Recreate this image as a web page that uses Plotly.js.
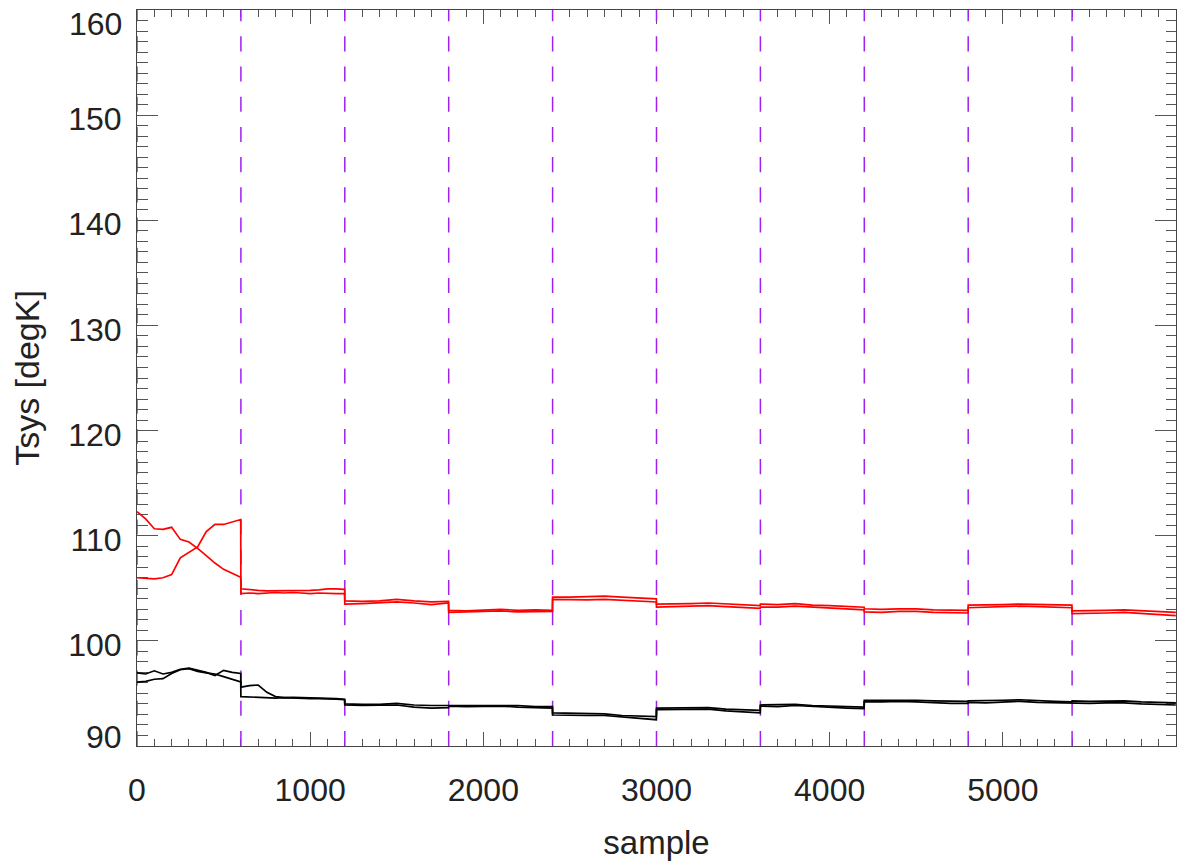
<!DOCTYPE html>
<html>
<head>
<meta charset="utf-8">
<script src="https://cdn.plot.ly/plotly-3.0.1.min.js"></script>
<style>html,body{margin:0;padding:0;background:#fff;}#chart{width:1178px;height:861px;}</style>
</head>
<body>
<div id="chart"></div>
<script>
// sample positions (shared by all four series)
const sampleX = [0,50,100,150,200,250,300,350,400,450,500,550,599,
  600,650,700,750,800,850,900,950,1000,1050,1100,1150,1199,
  1200,1300,1400,1500,1600,1700,1799,
  1800,1900,2000,2100,2200,2300,2399,
  2400,2500,2600,2700,2800,2900,2999,
  3000,3100,3200,3300,3400,3500,3599,
  3600,3700,3800,3900,4000,4100,4199,
  4200,4300,4400,4500,4600,4700,4799,
  4800,4900,5000,5100,5200,5300,5399,
  5400,5500,5600,5700,5800,5900,5999];

// red series (two polarisations)
const redA = [112.3,111.6,110.66,110.6,110.8,109.65,109.4,108.8,108.1,107.4,106.8,106.4,106.05,
  104.95,104.85,104.8,104.75,104.75,104.8,104.75,104.75,104.8,104.85,104.95,104.95,104.9,
  103.8,103.75,103.8,103.95,103.8,103.7,103.75,
  102.9,102.85,102.95,103.0,102.9,102.95,102.9,
  104.15,104.15,104.2,104.25,104.15,104.1,104.0,
  103.5,103.5,103.55,103.6,103.5,103.45,103.35,
  103.5,103.45,103.55,103.4,103.35,103.3,103.2,
  103.05,103.0,103.05,103.05,102.95,102.9,102.9,
  103.4,103.4,103.45,103.5,103.45,103.45,103.4,
  102.85,102.85,102.9,102.95,102.85,102.8,102.7];
const redB = [106.0,105.93,105.9,106.0,106.3,107.9,108.4,108.94,110.4,111.07,111.07,111.29,111.54,
  104.5,104.55,104.5,104.55,104.6,104.55,104.6,104.55,104.5,104.55,104.5,104.5,104.5,
  103.5,103.55,103.6,103.7,103.6,103.45,103.6,
  102.7,102.75,102.8,102.85,102.75,102.8,102.8,
  103.95,103.9,103.9,103.95,103.85,103.8,103.7,
  103.2,103.25,103.3,103.35,103.25,103.2,103.1,
  103.2,103.2,103.3,103.2,103.1,103.05,102.95,
  102.75,102.7,102.8,102.8,102.7,102.65,102.65,
  103.15,103.2,103.25,103.3,103.25,103.2,103.15,
  102.6,102.6,102.65,102.7,102.6,102.5,102.4];

// black series
const blackC = [96.96,96.85,97.15,96.85,97.0,97.3,97.4,97.2,97.0,96.7,97.2,97.0,96.9,
  95.6,95.75,95.8,95.1,94.7,94.6,94.62,94.6,94.55,94.6,94.55,94.5,94.45,
  94.0,93.95,93.95,94.05,93.9,93.85,93.85,
  93.9,93.85,93.85,93.9,93.85,93.75,93.75,
  93.15,93.1,93.05,93.05,92.9,92.85,92.8,
  93.6,93.6,93.6,93.65,93.5,93.45,93.4,
  93.9,93.9,93.95,93.85,93.8,93.75,93.7,
  94.35,94.35,94.4,94.35,94.3,94.25,94.25,
  94.3,94.3,94.35,94.4,94.3,94.25,94.2,
  94.3,94.25,94.25,94.3,94.2,94.15,94.1];
const blackD = [96.07,96.15,96.35,96.4,96.9,97.25,97.35,97.1,96.95,96.85,96.6,96.35,96.1,
  94.7,94.65,94.65,94.6,94.55,94.6,94.55,94.55,94.5,94.5,94.5,94.45,94.4,
  93.9,93.85,93.85,93.9,93.7,93.6,93.65,
  93.8,93.75,93.8,93.8,93.7,93.65,93.6,
  92.95,92.9,92.9,92.9,92.75,92.65,92.5,
  93.45,93.45,93.5,93.5,93.35,93.25,93.15,
  93.8,93.75,93.85,93.75,93.65,93.6,93.55,
  94.2,94.2,94.25,94.2,94.1,94.05,94.05,
  94.15,94.1,94.15,94.25,94.15,94.1,94.05,
  94.1,94.05,94.1,94.1,94.0,93.95,93.9];

// scan boundaries (dashed purple markers)
const boundaries = [0,600,1200,1800,2400,3000,3600,4200,4800,5400];

const xTickVals = [0,1000,2000,3000,4000,5000];
const xTickText = ['0','1000','2000','3000','4000','5000'];
const yTickVals = [90,100,110,120,130,140,150,160];
const yTickText = ['90','100','110','120','130','140','150','160'];

const xRange = [0, 6000];
const yRange = [90, 160];

const traces = [];
boundaries.forEach(b => {
  traces.push({x:[b,b], y:[yRange[1]+0.37, yRange[0]], mode:'lines', hoverinfo:'skip', showlegend:false,
    line:{color:'#a020f0', width:1.5, dash:'15.1px,15.1px'}});
});
[[redA,'#ff0000'],[redB,'#ff0000'],[blackC,'#000000'],[blackD,'#000000']].forEach(([ys,c]) => {
  traces.push({x:sampleX, y:ys, mode:'lines', showlegend:false, line:{color:c, width:1.7}});
});

const fontFam = '"Liberation Sans", Arial, Helvetica, sans-serif';
const tickColor = '#222222';

// end labels of the y axis sit slightly inside the frame (as in the original)
const lastY = yTickVals.length - 1;
const yAxisText = yTickText.map((t, i) => (i === 0 || i === lastY) ? '' : t);
const endShift = {0: 9, [lastY]: -14};
const annotations = [0, lastY].map(i => ({
  xref:'paper', yref:'y', x:0, y:yTickVals[i], text:yTickText[i], showarrow:false,
  xanchor:'right', yanchor:'middle', xshift:-13, yshift:endShift[i],
  font:{size:32, family:fontFam, color:tickColor}
}));

const layout = {
  width:1178, height:861,
  margin:{l:137, r:2, t:10, b:115},
  paper_bgcolor:'#ffffff', plot_bgcolor:'#ffffff',
  showlegend:false,
  font:{family:fontFam, color:tickColor, size:32},
  annotations: annotations,
  xaxis:{
    range:xRange, tickmode:'array', tickvals:xTickVals, ticktext:xTickText,
    showgrid:false, zeroline:false, showline:true, linecolor:'#444', linewidth:1, mirror:'allticks',
    ticks:'inside', ticklen:14, tickcolor:'#555', tickwidth:1,
    minor:{dtick:100, tick0:0, ticks:'inside', ticklen:7, tickcolor:'#555', tickwidth:1, showgrid:false},
    tickfont:{size:32, family:fontFam, color:tickColor},
    ticklabelstandoff:16,
    title:{text:'sample', font:{size:33, family:fontFam, color:tickColor}, standoff:24},
    layer:'below traces'
  },
  yaxis:{
    range:yRange, tickmode:'array', tickvals:yTickVals, ticktext:yAxisText,
    showgrid:false, zeroline:false, showline:true, linecolor:'#444', linewidth:1, mirror:'allticks',
    ticks:'inside', ticklen:21, tickcolor:'#555', tickwidth:1,
    minor:{dtick:1, tick0:0, ticks:'inside', ticklen:10.5, tickcolor:'#555', tickwidth:1, showgrid:false},
    tickfont:{size:32, family:fontFam, color:tickColor},
    ticklabelstandoff:8, ticklabelshift:4,
    title:{text:'Tsys [degK]', font:{size:34, family:fontFam, color:tickColor}, standoff:18},
    layer:'below traces'
  }
};
Plotly.newPlot('chart', traces, layout, {staticPlot:true});
</script>
</body>
</html>
